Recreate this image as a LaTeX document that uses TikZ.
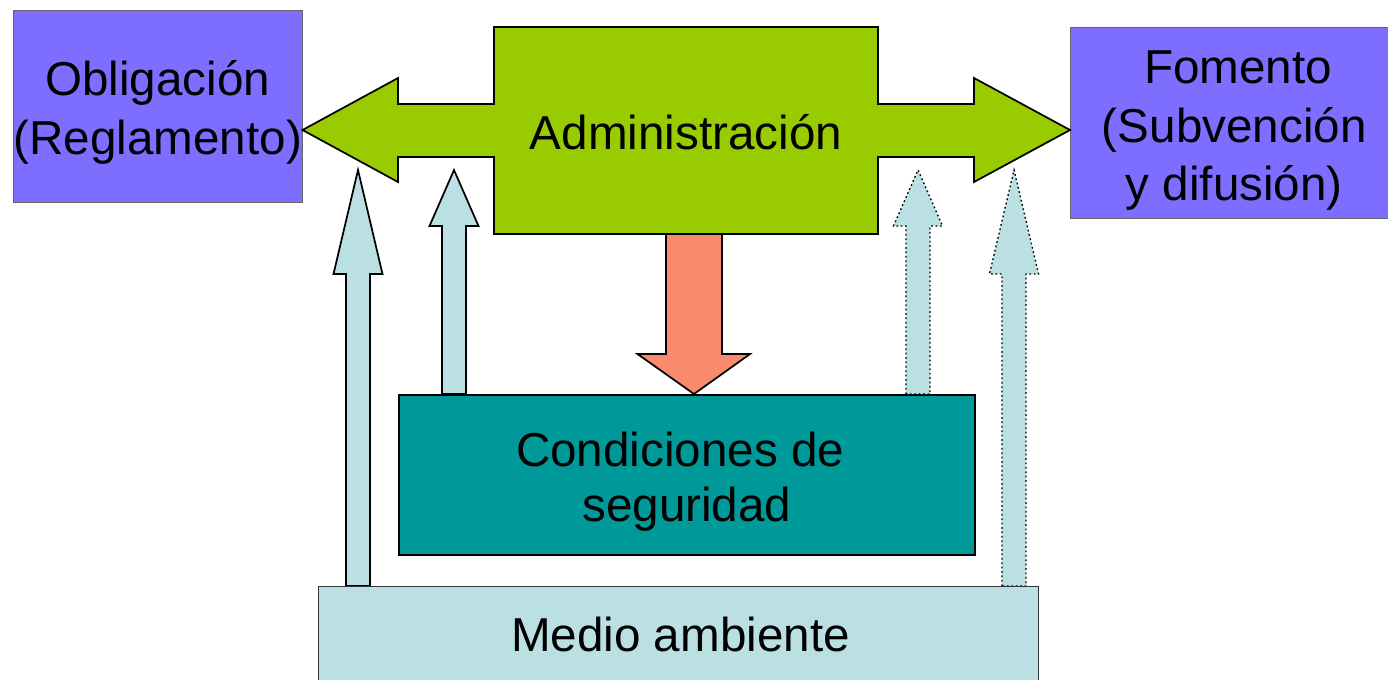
\documentclass[tikz,border=0pt]{standalone}
\usepackage{fontspec}
\setmainfont{Liberation Sans}
\usetikzlibrary{positioning}

\definecolor{violeta}{RGB}{125,110,255}
\definecolor{verde}{RGB}{153,204,0}
\definecolor{salmon}{RGB}{250,138,110}
\definecolor{turquesa}{RGB}{0,153,153}
\definecolor{celeste}{RGB}{187,224,227}

\begin{document}
\begin{tikzpicture}[x=0.75pt,y=-0.75pt,
    caja/.style = {rectangle, anchor=north west, inner sep=0pt},
    texto/.style = {align=center, inner sep=0pt, font=\fontsize{35.7}{44}\selectfont},
    bloque/.style = {draw=black, line width=1.3pt, line join=miter},
    punteado/.style = {dotted, line width=1pt}]
  \clip (0,0) rectangle (1388,679);
  \node [caja, fill=violeta, draw=black!60, minimum width=289*0.75pt, minimum height=192*0.75pt] (obl) at (13,10) {};
  \node [texto] (obl-t) at ([shift={(0,6)}]obl.center) {Obligación\\(Reglamento)};
  \node [caja, fill=violeta, draw=black!60, minimum width=318*0.75pt, minimum height=191*0.75pt] (fom) at (1070,27) {};
  \node [texto] (fom-t) at ([shift={(5,8)}]fom.center) {\,Fomento\\(Subvención\\y difusión)};
  % administracion con sus dos flechas
  \draw [bloque, fill=verde] (obl.east |- 0,130) -- (398,78) -- (398,104) -- (494,104) -- (494,27) -- (878,27)
        -- (878,104) -- (974,104) -- (974,78) -- (fom.west |- 0,130) -- (974,182) -- (974,157) -- (878,157)
        -- (878,234) -- (494,234) -- (494,157) -- (398,157) -- (398,182) -- cycle;
  \node [texto] (adm) at (686,132.5) {Administración};
  \node [caja, fill=turquesa, draw=black, line width=1.2pt, minimum width=576*0.75pt, minimum height=160*0.75pt] (cond) at (398,394) {};
  \node [texto, font=\fontsize{35.7}{41.5}\selectfont] (cond-t) at ([shift={(0,7)}]cond.center) {Condiciones de\kern0.28em\\seguridad};
  \draw [bloque, fill=salmon] (666,234) -- (666,354) -- (637.5,354) -- (694,0 |- cond.north)
        -- (750,354) -- (722,354) -- (722,234) -- cycle;
  \foreach \x/\ya/\yb/\estilo in {358/586/274/solid, 454/394/226/solid, 918/394/226/punteado, 1014/586/274/punteado}
    \draw [bloque, fill=celeste, \estilo] (\x-12,\ya) -- (\x-12,\yb) -- (\x-24.5,\yb) -- (\x,170)
        -- (\x+24.5,\yb) -- (\x+12,\yb) -- (\x+12,\ya) -- cycle;
  \node [caja, fill=celeste, draw=black!80, line width=0.8pt, minimum width=720*0.75pt, minimum height=96*0.75pt] (medio) at (318,586) {};
  \node [texto] (medio-t) at ([shift={(2,0)}]medio.center) {Medio ambiente};
\end{tikzpicture}
\end{document}
